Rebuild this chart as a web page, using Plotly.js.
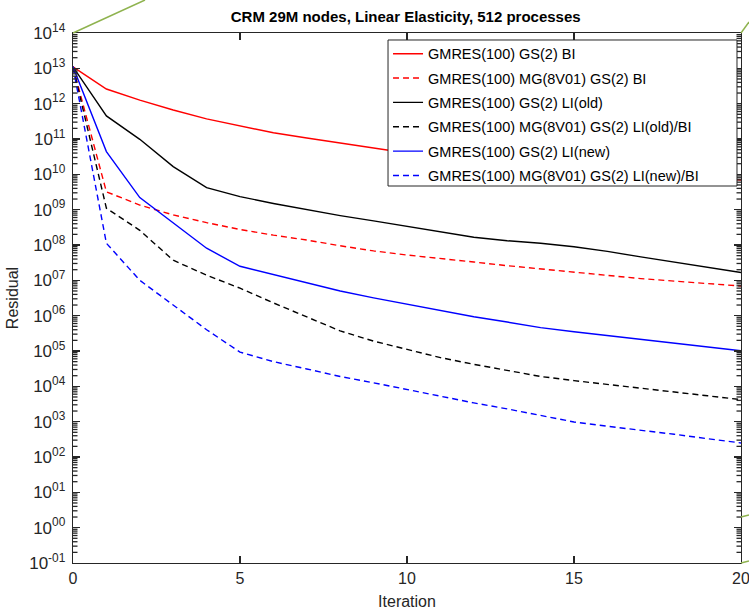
<!DOCTYPE html>
<html>
<head>
<meta charset="utf-8">
<script src="https://cdn.plot.ly/plotly-3.0.1.min.js"></script>
<style>
  html, body { margin: 0; padding: 0; background: #ffffff; }
  #chart { width: 749px; height: 611px; }
</style>
</head>
<body>
<div id="chart"></div>
<script>
// ---- data ----
const iterations = [0,1,2,3,4,5,6,7,8,9,10,11,12,13,14,15,16,17,18,19,20];

const gsBI        = [1.1e13,2.6e12,1.26e12,6.6e11,3.7e11,2.3e11,1.5e11,1.07e11,7.6e10,5.5e10,4.0e10,3.2e10,2.6e10,2.1e10,1.8e10,1.5e10,1.3e10,1.1e10,9.3e9,7.9e9,6.9e9];
const mgBI        = [1.1e13,3.2e9,1.35e9,7.1e8,4.3e8,2.75e8,1.9e8,1.38e8,9.5e7,6.8e7,5.2e7,4.2e7,3.3e7,2.6e7,2.1e7,1.74e7,1.41e7,1.12e7,9.5e6,8.1e6,6.9e6];
const gsLIold     = [1.1e13,4.5e11,9.8e10,1.66e10,4.2e9,2.34e9,1.5e9,1.0e9,6.8e8,4.8e8,3.4e8,2.4e8,1.66e8,1.32e8,1.12e8,8.9e7,6.6e7,4.6e7,3.3e7,2.34e7,1.66e7];
const mgLIoldBI   = [1.1e13,1.1e9,2.6e8,3.7e7,1.4e7,6.0e6,2.3e6,9.1e5,3.7e5,1.9e5,1.12e5,6.5e4,4.2e4,2.8e4,1.9e4,1.45e4,1.12e4,8.7e3,6.8e3,5.4e3,4.2e3];
const gsLInew     = [1.1e13,4.4e10,2.2e9,4.2e8,8.1e7,2.5e7,1.45e7,8.5e6,5.0e6,3.2e6,2.1e6,1.35e6,9.3e5,6.6e5,4.6e5,3.5e5,2.75e5,2.1e5,1.66e5,1.32e5,1.02e5];
const mgLInewBI   = [1.1e13,1.12e8,1.0e7,2.0e6,4.0e5,9.3e4,5.0e4,3.1e4,1.9e4,1.26e4,8.1e3,5.2e3,3.4e3,2.3e3,1.48e3,980,740,575,440,330,250];

const seriesNames = [
  "GMRES(100) GS(2) BI",
  "GMRES(100) MG(8V01) GS(2) BI",
  "GMRES(100) GS(2) LI(old)",
  "GMRES(100) MG(8V01) GS(2) LI(old)/BI",
  "GMRES(100) GS(2) LI(new)",
  "GMRES(100) MG(8V01) GS(2) LI(new)/BI"
];

const yTickExponents = [-1,0,1,2,3,4,5,6,7,8,9,10,11,12,13,14];
const xTickVals = [0,5,10,15,20];

// ---- build ----
const seriesData = [gsBI, mgBI, gsLIold, mgLIoldBI, gsLInew, mgLInewBI];
const colors = ["#ff0000","#ff0000","#000000","#000000","#0000ff","#0000ff"];
const dashes = ["solid","6px,4px","solid","6px,4px","solid","6px,4px"];

const traces = seriesData.map((ys, k) => ({
  x: iterations,
  y: ys,
  type: "scatter",
  mode: "lines",
  name: seriesNames[k],
  legendgroup: "g" + k,
  line: { color: colors[k], width: 1.4, dash: dashes[k] }
}));

function pad2(e) {
  const s = String(Math.abs(e)).padStart(2, "0");
  return (e < 0 ? "-" : "") + s;
}
const yMin = -1, yMax = 14;
const yTickVals = yTickExponents.map(e => Math.pow(10, e));
const yTickText = yTickExponents.map(e => "10<sup>" + pad2(e) + "</sup>");

const green = "#8fb34f";
const axisColor = "#262626";

// minor log ticks (2..9 per decade) on both vertical axis lines, placed in axis fraction
const minorShapes = [];
const minorLenFrac = 4.5 / 668;
for (let e = yMin; e < yMax; e++) {
  for (let d = 2; d <= 9; d++) {
    const f = (Math.log10(d * Math.pow(10, e)) - yMin) / (yMax - yMin);
    minorShapes.push({ type: "line", xref: "paper", yref: "paper", x0: 0, x1: minorLenFrac, y0: f, y1: f,
      line: { color: axisColor, width: 1.3 }, layer: "above" });
    minorShapes.push({ type: "line", xref: "paper", yref: "paper", x0: 1 - minorLenFrac, x1: 1, y0: f, y1: f,
      line: { color: axisColor, width: 1.3 }, layer: "above" });
  }
}

const layout = {
  width: 749,
  height: 611,
  margin: { l: 73, r: 8, t: 33, b: 48 },
  paper_bgcolor: "#ffffff",
  plot_bgcolor: "#ffffff",
  font: { family: "Liberation Sans, Arial, sans-serif", size: 16, color: "#262626" },
  title: {
    text: "<b>CRM 29M nodes, Linear Elasticity, 512 processes</b>",
    font: { size: 15, color: "#000000" },
    x: 0.5417, xanchor: "center",
    y: 0.972, yanchor: "middle"
  },
  showlegend: true,
  legend: {
    x: 0.4716, y: 0.991, xanchor: "left", yanchor: "top",
    bgcolor: "rgba(0,0,0,0)",
    borderwidth: 0,
    font: { size: 14.5, color: "#000000" },
    tracegroupgap: 2.5
  },
  xaxis: {
    range: [0, 20],
    tickmode: "array",
    tickvals: xTickVals,
    ticks: "inside",
    ticklen: 7,
    tickwidth: 1.5,
    tickcolor: axisColor,
    tickfont: { size: 16 },
    ticklabeloverflow: "allow",
    showline: true,
    linecolor: axisColor,
    linewidth: 1.3,
    mirror: "ticks",
    showgrid: false,
    zeroline: false,
    title: { text: "Iteration", font: { size: 16 }, standoff: 10 }
  },
  yaxis: {
    type: "log",
    range: [yMin, yMax],
    tickmode: "array",
    tickvals: yTickVals,
    ticktext: yTickText,
    ticks: "inside",
    ticklen: 7,
    tickwidth: 1.5,
    tickcolor: axisColor,
    tickfont: { size: 17 },
    ticklabelstandoff: 3,
    showline: true,
    linecolor: axisColor,
    linewidth: 1.3,
    mirror: "ticks",
    showgrid: false,
    zeroline: false,
    title: { text: "Residual", font: { size: 16 }, standoff: 6 }
  },
  shapes: minorShapes.concat([
    { type: "rect", xref: "paper", yref: "paper", x0: 0.4716, y0: 0.7113, x1: 0.994, y1: 0.9868,
      fillcolor: "#ffffff", line: { color: axisColor, width: 1 }, layer: "above" },
    { type: "line", xref: "paper", yref: "paper", x0: 0, y0: 1, x1: 0.1078, y1: 1.0623, line: { color: green, width: 1.5 } },
    { type: "line", xref: "paper", yref: "paper", x0: 1, y0: 1, x1: 1.012, y1: 1.0208, line: { color: green, width: 1.5 } },
    { type: "line", xref: "paper", yref: "paper", x0: 1, y0: 0.0868, x1: 1.012, y1: 0.0906, line: { color: green, width: 1.5 } },
    { type: "line", xref: "paper", yref: "paper", x0: 1, y0: 0, x1: 1.012, y1: 0.0038, line: { color: green, width: 1.5 } }
  ])
};

Plotly.newPlot("chart", traces, layout, { displayModeBar: false, staticPlot: true });
</script>
</body>
</html>
